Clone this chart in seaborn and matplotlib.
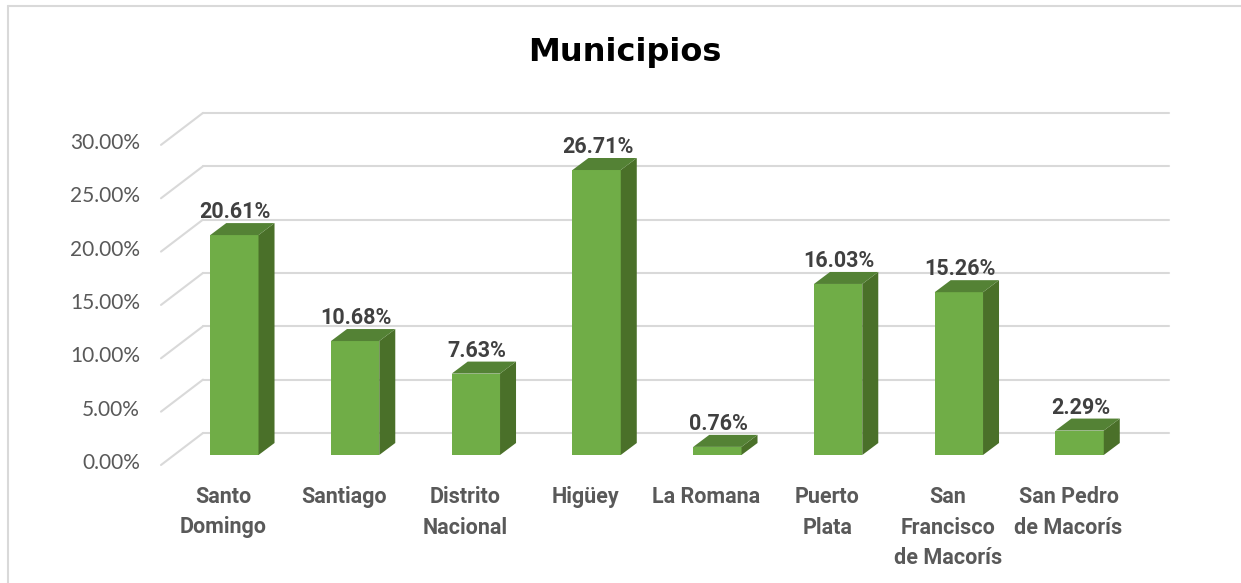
import matplotlib
matplotlib.use("Agg")
import matplotlib.pyplot as plt
import seaborn as sns
import pandas as pd
from matplotlib.patches import Polygon
from matplotlib.lines import Line2D
from matplotlib.transforms import IdentityTransform

# datos del grafico
municipios = ["Santo\nDomingo", "Santiago", "Distrito\nNacional", "Higüey", "La Romana",
              "Puerto\nPlata", "San\nFrancisco\nde Macorís", "San Pedro\nde Macorís"]
porcentajes = [20.61, 10.68, 7.63, 26.71, 0.76, 16.03, 15.26, 2.29]
ticks = [0, 5, 10, 15, 20, 25, 30]

df = pd.DataFrame({"Municipio": municipios, "Porcentaje": porcentajes})

sns.set_style("white")
plt.rcParams["font.family"] = ["Lato", "DejaVu Sans"]
BOLD = ["Roboto", "DejaVu Sans"]

W, H = 1241, 583
fig = plt.figure(figsize=(W / 100, H / 100), dpi=100)
ax = fig.add_axes([174 / W, (H - 455) / H, 966 / W, 320.1 / H])

sns.barplot(data=df, x="Municipio", y="Porcentaje", color="#70AD47", width=0.4,
            saturation=1, linewidth=0, ax=ax, zorder=3)
ax.set_xlim(-0.5, 7.5)
ax.set_ylim(0, 30)
ax.axis("off")

ident = IdentityTransform()
DX, DY = 16, 12          # profundidad de las barras (px)
x_left = 174             # borde izquierdo del eje (px)

# pared del fondo y rejilla en perspectiva
for t in ticks:
    yd = ax.transData.transform((0, t))[1]
    back_y = yd + 22
    front_y = yd - 10
    ax.add_line(Line2D([x_left + 29, 1169], [back_y, back_y], color="#D9D9D9", lw=1.5,
                       transform=ident, zorder=1, clip_on=False))
    ax.add_line(Line2D([x_left - 13, x_left + 29], [front_y, back_y], color="#D9D9D9", lw=1.5,
                       transform=ident, zorder=1, clip_on=False))
    fig.text(140 / W, (yd - 8) / H, f"{t:.2f}%", ha="right", va="center",
             fontsize=15, color="#595959")

# caras lateral y superior de cada barra + etiquetas
for p, val, name in zip(ax.patches, porcentajes, municipios):
    (x0, y0) = ax.transData.transform((p.get_x(), 0))
    (x1, y1) = ax.transData.transform((p.get_x() + p.get_width(), p.get_height()))
    side = Polygon([(x1, y0), (x1, y1), (x1 + DX, y1 + DY), (x1 + DX, y0 + DY)],
                   closed=True, facecolor="#4A7029", edgecolor="none",
                   transform=ident, zorder=3, clip_on=False)
    top = Polygon([(x0, y1), (x1, y1), (x1 + DX, y1 + DY), (x0 + DX, y1 + DY)],
                  closed=True, facecolor="#548235", edgecolor="none",
                  transform=ident, zorder=3, clip_on=False)
    ax.add_patch(side)
    ax.add_patch(top)
    cx = (x0 + x1) / 2
    fig.text((cx + 1) / W, (y1 + DY + 5) / H, f"{val:.2f}%", ha="center", va="baseline",
             fontsize=15.5, fontweight="bold", color="#404040", family=BOLD)
    fig.text((cx - 11) / W, (y0 - 31) / H, name, ha="center", va="top", fontsize=15.5,
             fontweight="bold", color="#595959", linespacing=1.5, family=BOLD)

# titulo
fig.text(625 / W, 1 - 53 / H, "Municipios", ha="center", va="center", fontsize=23,
         fontweight="bold", color="black", family="DejaVu Sans")

# borde del area del grafico
fig.add_artist(Line2D([8, 8], [0, H - 6], color="#D9D9D9", lw=1.5, transform=ident))
fig.add_artist(Line2D([8, W], [H - 6, H - 6], color="#D9D9D9", lw=1.5, transform=ident))

fig.savefig("out.png", dpi=100)
